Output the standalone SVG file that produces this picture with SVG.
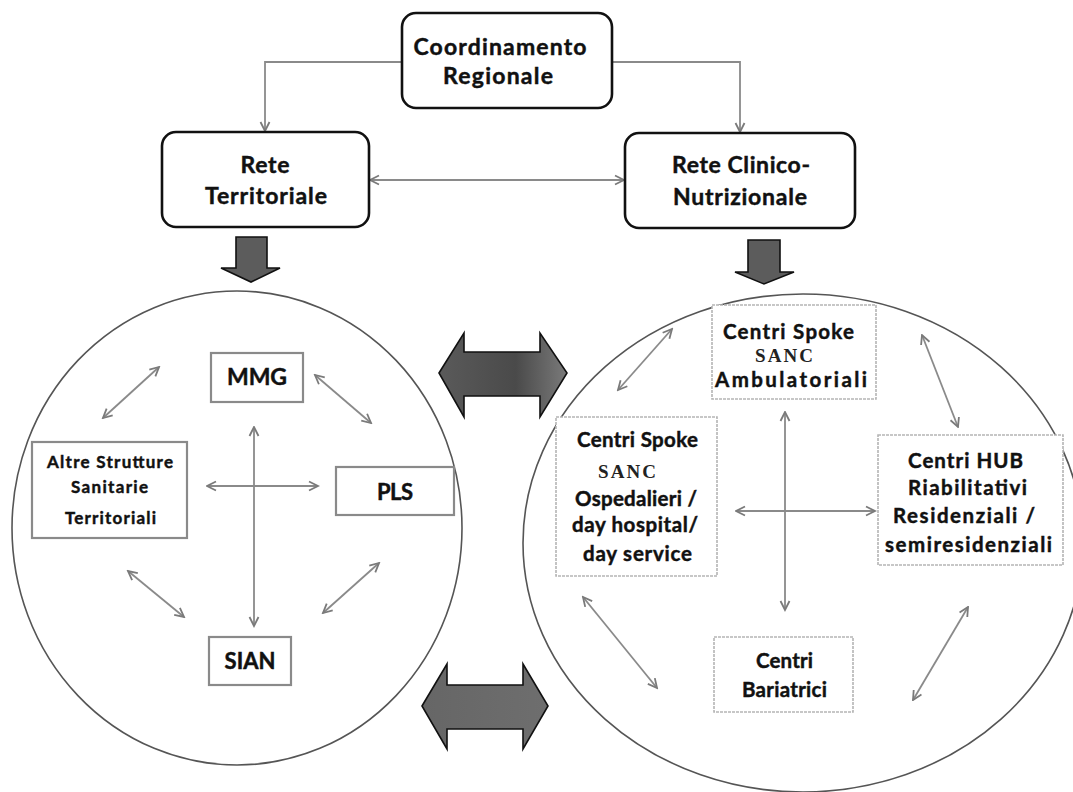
<svg xmlns="http://www.w3.org/2000/svg" width="1073" height="792" viewBox="0 0 1073 792">
<style>
.bg{fill:#fff}
.rbox{fill:#fff;stroke:#111;stroke-width:2.6}
.lbox{fill:#fff;stroke:#8a8a8a;stroke-width:2.2}
.gbox{fill:#fff;stroke:#b5b5b5;stroke-width:1.6;stroke-dasharray:3 1}
.circ{fill:none;stroke:#555;stroke-width:1.6}
.t{font-family:Lato,"Open Sans","Liberation Sans",sans-serif;font-weight:bold;fill:#111;stroke:#111;stroke-width:0.45;text-anchor:middle}
.s{font-family:"Liberation Serif",serif;font-weight:bold;fill:#222;text-anchor:middle}
.ln{fill:none;stroke:#8a8a8a;stroke-width:1.8;marker-start:url(#ah);marker-end:url(#ah)}
.ln1{fill:none;stroke:#8a8a8a;stroke-width:1.8;marker-end:url(#ah)}
.blk{stroke:#111;stroke-width:1.6;stroke-linejoin:miter}
</style>
<defs>
<marker id="ah" viewBox="0 0 12 12" refX="10.5" refY="6" markerWidth="12" markerHeight="12" markerUnits="userSpaceOnUse" orient="auto-start-reverse">
<path d="M1.5,1.5 L10.5,6 L1.5,10.5" fill="none" stroke="#7a7a7a" stroke-width="1.8"/>
</marker>
<linearGradient id="gd" x1="0" y1="0" x2="1" y2="0">
<stop offset="0" stop-color="#5a5a5a"/><stop offset="0.6" stop-color="#4a4a4a"/><stop offset="1" stop-color="#7a7a7a"/>
</linearGradient>
<linearGradient id="gd2" x1="0" y1="0" x2="1" y2="0">
<stop offset="0" stop-color="#666"/><stop offset="1" stop-color="#6e6e6e"/>
</linearGradient>
</defs>
<rect class="bg" x="0" y="0" width="1073" height="792"/>

<g id="circle-territoriale"><ellipse class="circ" cx="237" cy="528" rx="225" ry="237"/></g>
<g id="circle-clinico"><ellipse class="circ" cx="803" cy="543" rx="280" ry="249"/></g>

<g id="connectors">
<polyline class="ln1" points="402,62 265,62 265,131"/>
<polyline class="ln1" points="612,62 740,62 740,132"/>
<line class="ln" x1="370" y1="180" x2="624" y2="180"/>
<line class="ln" x1="103" y1="418" x2="159" y2="367"/>
<line class="ln" x1="315" y1="375" x2="371" y2="423"/>
<line class="ln" x1="254" y1="427" x2="254" y2="626"/>
<line class="ln" x1="207" y1="486" x2="318" y2="486"/>
<line class="ln" x1="128" y1="571" x2="184" y2="617"/>
<line class="ln" x1="323" y1="613" x2="379" y2="563"/>
<line class="ln" x1="618" y1="390" x2="672" y2="329"/>
<line class="ln" x1="922" y1="335" x2="958" y2="427"/>
<line class="ln" x1="785" y1="412" x2="785" y2="610"/>
<line class="ln" x1="736" y1="511" x2="875" y2="511"/>
<line class="ln" x1="583" y1="597" x2="657" y2="688"/>
<line class="ln" x1="968" y1="607" x2="913" y2="700"/>
<path class="blk" fill="#5c5c5c" d="M236,237 H267 V268 H280 L251,282 L221,268 H236 Z"/>
<path class="blk" fill="#5c5c5c" d="M748,240 H780 V272 H794 L764,284 L735,272 H748 Z"/>
<path class="blk" fill="url(#gd)" d="M439,373 L464,333 V352 H540 V333 L567,373 L540,417 V396 H464 V417 Z"/>
<path class="blk" fill="url(#gd2)" d="M422,706 L447,664 V685 H523 V664 L548,706 L523,749 V729 H447 V749 Z"/>
</g>

<g id="coordinamento">
<rect class="rbox" x="402" y="13" width="210" height="95" rx="14"/>
<text class="t" x="500" y="55" font-size="23" textLength="173" lengthAdjust="spacing">Coordinamento</text>
<text class="t" x="498" y="84" font-size="23" textLength="110" lengthAdjust="spacing">Regionale</text>
</g>
<g id="rete-territoriale">
<rect class="rbox" x="162" y="132" width="207" height="95" rx="14"/>
<text class="t" x="265" y="173" font-size="23" textLength="49" lengthAdjust="spacing">Rete</text>
<text class="t" x="266" y="204" font-size="23" textLength="122" lengthAdjust="spacing">Territoriale</text>
</g>
<g id="rete-clinico">
<rect class="rbox" x="625" y="133" width="230" height="95" rx="14"/>
<text class="t" x="741" y="173" font-size="23" textLength="138" lengthAdjust="spacing">Rete Clinico-</text>
<text class="t" x="740" y="205" font-size="23" textLength="134" lengthAdjust="spacing">Nutrizionale</text>
</g>

<g id="mmg">
<rect class="lbox" x="211" y="353" width="92" height="49"/>
<text class="t" x="257" y="385" font-size="23" textLength="60" lengthAdjust="spacing">MMG</text>
</g>
<g id="altre-strutture">
<rect class="lbox" x="32" y="442" width="155" height="96"/>
<text class="t" x="110" y="468" font-size="17" textLength="126" lengthAdjust="spacing">Altre Strutture</text>
<text class="t" x="109.5" y="493" font-size="17" textLength="77" lengthAdjust="spacing">Sanitarie</text>
<text class="t" x="110.5" y="524" font-size="17" textLength="91" lengthAdjust="spacing">Territoriali</text>
</g>
<g id="pls">
<rect class="lbox" x="336" y="467" width="118" height="48"/>
<text class="t" x="395" y="500" font-size="22" textLength="36" lengthAdjust="spacing">PLS</text>
</g>
<g id="sian">
<rect class="lbox" x="209" y="637" width="82" height="48"/>
<text class="t" x="250" y="669" font-size="22" textLength="51" lengthAdjust="spacing">SIAN</text>
</g>

<g id="spoke-ambulatoriali">
<rect class="gbox" x="712" y="305" width="164" height="94"/>
<text class="t" x="788.5" y="339" font-size="20.5" textLength="131" lengthAdjust="spacing">Centri Spoke</text>
<text class="s" x="784" y="362" font-size="19" textLength="58" lengthAdjust="spacing">SANC</text>
<text class="t" x="791" y="387" font-size="20.5" textLength="152" lengthAdjust="spacing">Ambulatoriali</text>
</g>
<g id="spoke-ospedalieri">
<rect class="gbox" x="556" y="417" width="161" height="159"/>
<text class="t" x="637.5" y="447" font-size="20.5" textLength="121" lengthAdjust="spacing">Centri Spoke</text>
<text class="s" x="627" y="478" font-size="19" textLength="58" lengthAdjust="spacing">SANC</text>
<text class="t" x="636" y="506" font-size="20.5" textLength="122" lengthAdjust="spacing">Ospedalieri /</text>
<text class="t" x="635" y="532" font-size="20.5" textLength="126" lengthAdjust="spacing">day hospital/</text>
<text class="t" x="637.5" y="561" font-size="20.5" textLength="109" lengthAdjust="spacing">day service</text>
</g>
<g id="hub">
<rect class="gbox" x="878" y="435" width="185" height="130"/>
<text class="t" x="965.5" y="468" font-size="20.5" textLength="115" lengthAdjust="spacing">Centri HUB</text>
<text class="t" x="967.5" y="495" font-size="20.5" textLength="119" lengthAdjust="spacing">Riabilitativi</text>
<text class="t" x="964" y="523" font-size="20.5" textLength="142" lengthAdjust="spacing">Residenziali /</text>
<text class="t" x="968.5" y="552" font-size="20.5" textLength="167" lengthAdjust="spacing">semiresidenziali</text>
</g>
<g id="bariatrici">
<rect class="gbox" x="714" y="637" width="139" height="75"/>
<text class="t" x="784.5" y="668" font-size="20.5" textLength="57" lengthAdjust="spacing">Centri</text>
<text class="t" x="784.5" y="697" font-size="20.5" textLength="85" lengthAdjust="spacing">Bariatrici</text>
</g>
</svg>
